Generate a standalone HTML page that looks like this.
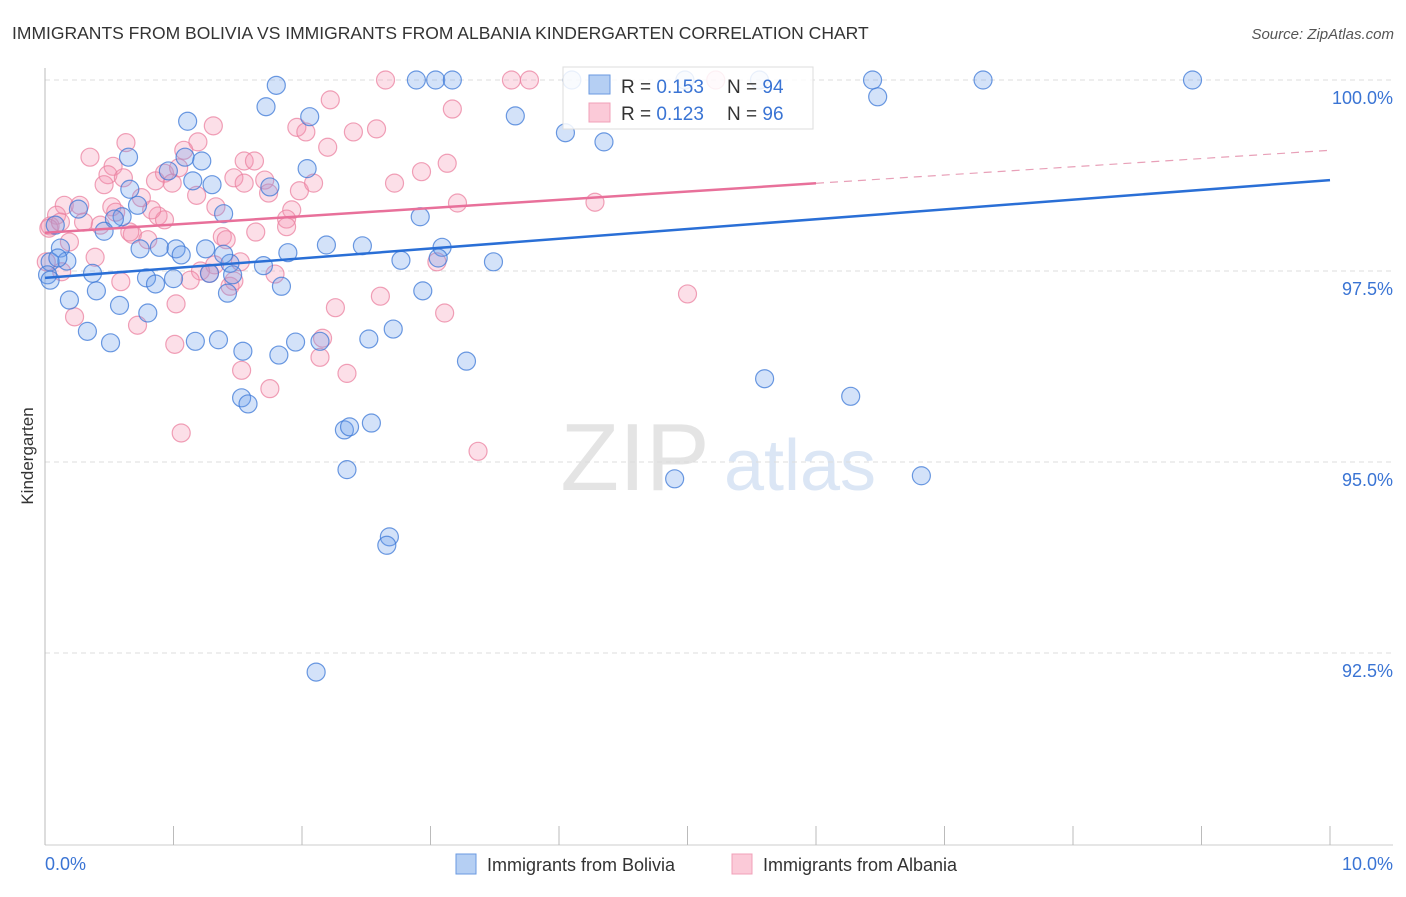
<!DOCTYPE html>
<html><head><meta charset="utf-8"><style>
body{margin:0;background:#fff;font-family:"Liberation Sans",sans-serif;}
svg text{font-family:"Liberation Sans",sans-serif;}
</style></head><body>
<svg id="chart" width="1406" height="892" viewBox="0 0 1406 892" xmlns="http://www.w3.org/2000/svg">
<text x="12" y="39" font-size="17.5" fill="#333">IMMIGRANTS FROM BOLIVIA VS IMMIGRANTS FROM ALBANIA KINDERGARTEN CORRELATION CHART</text>
<text x="1394" y="39" font-size="15" fill="#555" text-anchor="end" font-style="italic">Source: ZipAtlas.com</text>
<g>
<text x="635" y="490" font-size="96" fill="#e4e4e4" font-family="Liberation Serif, serif" text-anchor="middle">ZIP</text>
<text x="800" y="490" font-size="72" fill="#dbe6f5" text-anchor="middle">atlas</text>
</g>
<g id="grid"></g>
<g id="axes"></g>
<g id="marks"></g>
<g id="trends"></g>
<text transform="translate(33,456) rotate(-90)" font-size="17" fill="#333" text-anchor="middle">Kindergarten</text>
<g>
<rect x="563" y="67" width="250" height="62" fill="#fff" fill-opacity="0.85" stroke="#ddd"/>
<rect x="589" y="75" width="21" height="19" fill="#b5cff3" stroke="#6a9ae0"/>
<rect x="589" y="103" width="21" height="19" fill="#fbcad8" stroke="#f0a0b8"/>
<text x="621" y="93" font-size="19" fill="#333">R = <tspan fill="#3a74d4">0.153</tspan></text>
<text x="727" y="93" font-size="19" fill="#333">N = <tspan fill="#3a74d4">94</tspan></text>
<text x="621" y="120" font-size="19" fill="#333">R = <tspan fill="#3a74d4">0.123</tspan></text>
<text x="727" y="120" font-size="19" fill="#333">N = <tspan fill="#3a74d4">96</tspan></text>
</g>
<g>
<rect x="456" y="854" width="20" height="20" fill="#b5cff3" stroke="#6a9ae0"/>
<text x="487" y="871" font-size="18" fill="#333">Immigrants from Bolivia</text>
<rect x="732" y="854" width="20" height="20" fill="#fbcad8" stroke="#f0a0b8"/>
<text x="763" y="871" font-size="18" fill="#333">Immigrants from Albania</text>
</g>
</svg>
<script>
const yTicks=[100,97.5,95,92.5];
const yTickLabels=["100.0%","97.5%","95.0%","92.5%"];
const xTickLabels=["0.0%","10.0%"];
const boliviaX=[1.80,1.72,1.11,2.06,0.65,1.09,1.22,0.96,2.04,1.15,1.30,0.66,1.75,0.72,1.39,0.26,0.60,0.54,0.08,0.46,0.12,0.74,0.89,1.02,1.06,1.25,1.89,2.19,2.47,3.09,3.06,2.77,3.49,0.04,0.17,0.10,1.44,1.70,0.37,0.02,0.04,0.79,0.86,1.00,1.28,1.46,1.42,1.84,2.94,0.19,0.40,0.58,0.80,0.33,0.51,1.17,1.35,1.54,1.82,1.95,2.14,2.52,2.71,3.28,5.60,6.27,1.53,1.58,2.33,2.37,2.54,2.35,4.90,6.82,2.68,2.66,2.11,2.89,3.04,3.17,4.10,4.98,5.56,6.44,7.30,8.93,6.48,3.66,4.05,4.35,2.92,1.39];
const boliviaY=[99.93,99.65,99.46,99.52,98.99,98.99,98.94,98.81,98.84,98.68,98.63,98.57,98.60,98.36,98.25,98.31,98.21,98.18,98.10,98.02,97.80,97.79,97.81,97.79,97.71,97.79,97.74,97.84,97.83,97.81,97.67,97.64,97.62,97.62,97.63,97.67,97.60,97.57,97.47,97.45,97.38,97.41,97.33,97.40,97.47,97.45,97.21,97.30,97.24,97.12,97.24,97.05,96.95,96.71,96.56,96.58,96.60,96.45,96.40,96.57,96.58,96.61,96.74,96.32,96.09,95.86,95.84,95.76,95.42,95.46,95.51,94.90,94.78,94.82,94.02,93.91,92.25,100,100,100,100,100,100,100,100,100,99.78,99.53,99.31,99.19,98.21,97.72];
const albaniaX=[2.65,3.63,3.77,5.22,3.17,2.22,1.31,1.96,2.03,2.40,2.58,0.63,0.35,1.19,2.20,1.55,1.63,2.93,3.13,0.53,0.49,0.61,0.46,0.86,0.93,1.04,0.99,1.18,1.47,1.71,1.74,1.98,2.09,2.72,3.21,4.28,0.15,0.27,0.52,0.55,1.33,1.92,1.88,1.64,0.09,0.04,0.30,0.43,0.88,0.93,0.68,0.80,1.38,1.41,1.88,0.19,0.39,1.32,1.52,1.21,1.79,1.44,1.13,0.59,1.02,2.26,2.61,3.11,5.00,0.23,0.72,1.01,2.14,2.16,1.53,1.75,2.35,1.06,3.37,0.13,0.01,0.03,0.83,1.47,1.28,3.05,0.66,0.75,0.12,1.08,1.55];
const albaniaY=[100,100,100,100,99.62,99.74,99.40,99.38,99.32,99.32,99.36,99.18,98.99,99.19,99.12,98.94,98.94,98.80,98.91,98.87,98.76,98.72,98.63,98.68,98.78,98.85,98.65,98.49,98.72,98.69,98.52,98.55,98.65,98.65,98.39,98.40,98.36,98.36,98.34,98.27,98.34,98.30,98.18,98.01,98.23,98.09,98.14,98.10,98.22,98.17,97.98,97.91,97.95,97.91,98.08,97.88,97.68,97.58,97.62,97.50,97.46,97.30,97.38,97.36,97.07,97.02,97.17,96.95,97.20,96.90,96.79,96.54,96.37,96.62,96.20,95.96,96.16,95.38,95.14,97.49,97.62,98.06,98.30,97.37,97.47,97.62,98.01,98.46,98.14,99.08,98.65];
const boliviaTrend=[97.41,98.69];
const albaniaTrend=[98.00,99.08];
const albaniaSolidEnd=6.0;

const NS="http://www.w3.org/2000/svg";
const X0=45,X1=1330,YTOP=80,PER=191/2.5;
function xs(v){return X0+(X1-X0)*v/10;}
function ys(v){return YTOP+(100-v)*PER;}
function mk(tag,attrs,parent){const e=document.createElementNS(NS,tag);for(const k in attrs)e.setAttribute(k,attrs[k]);parent.appendChild(e);return e;}
const grid=document.getElementById('grid'),axes=document.getElementById('axes'),marks=document.getElementById('marks'),trends=document.getElementById('trends');
yTicks.forEach((t,i)=>{
 const l=mk('line',{x1:X0,x2:1393,y1:ys(t),y2:ys(t),stroke:'#ddd','stroke-dasharray':'5,4'},grid);
 
 
 const tx=mk('text',{x:1393,y:ys(t)+24,'font-size':18,fill:'#3a74d4','text-anchor':'end'},axes);
 tx.textContent=yTickLabels[i];
 
 
});
const ya=mk('line',{x1:X0,x2:X0,y1:68,y2:845,stroke:'#bbb'},axes);


const xa=mk('line',{x1:X0,x2:1393,y1:845,y2:845,stroke:'#ccc'},axes);


for(let i=0;i<=10;i++){
 const t=mk('line',{x1:xs(i),x2:xs(i),y1:826,y2:845,stroke:'#bbb'},axes);
 
 
}
const xl0=mk('text',{x:45,y:870,'font-size':18,fill:'#3a74d4'},axes);xl0.textContent=xTickLabels[0];


const xl1=mk('text',{x:1393,y:870,'font-size':18,fill:'#3a74d4','text-anchor':'end'},axes);xl1.textContent=xTickLabels[1];


function pts(X,Y,fill,stroke,name){X.forEach((x,i)=>{
 const c=mk('circle',{cx:xs(x),cy:ys(Y[i]),r:9,fill:fill,stroke:stroke,'stroke-width':1.2},marks);
 
 
});}
pts(albaniaX,albaniaY,'rgba(245,150,180,0.3)','rgba(235,130,160,0.75)','point-albania');
pts(boliviaX,boliviaY,'rgba(110,160,235,0.3)','rgba(60,120,215,0.75)','point-bolivia');
function lin(tr,x){return tr[0]+(tr[1]-tr[0])*x/10;}
const bt=mk('line',{x1:xs(0),y1:ys(lin(boliviaTrend,0)),x2:xs(10),y2:ys(lin(boliviaTrend,10)),stroke:'#2a6fd6','stroke-width':2.5},trends);


const at=mk('line',{x1:xs(0),y1:ys(lin(albaniaTrend,0)),x2:xs(albaniaSolidEnd),y2:ys(lin(albaniaTrend,albaniaSolidEnd)),stroke:'#e8709a','stroke-width':2.5},trends);


const ad=mk('line',{x1:xs(albaniaSolidEnd),y1:ys(lin(albaniaTrend,albaniaSolidEnd)),x2:xs(10),y2:ys(lin(albaniaTrend,10)),stroke:'#e8a0b8','stroke-width':1.2,'stroke-dasharray':'8,6'},trends);


</script>
</body></html>
